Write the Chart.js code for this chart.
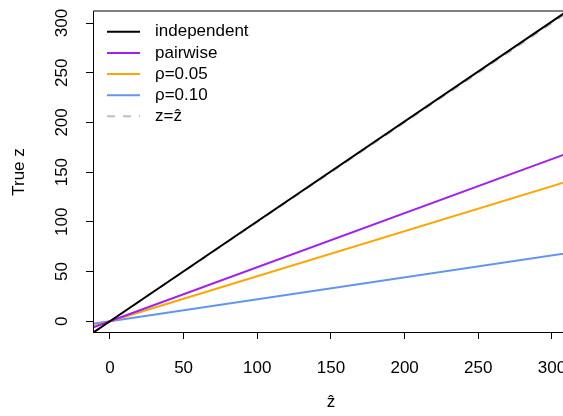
<!DOCTYPE html>
<html>
<head>
<meta charset="utf-8">
<script src="https://cdn.jsdelivr.net/npm/chart.js@4.4.0/dist/chart.umd.min.js"></script>
<style>
  html, body { margin: 0; padding: 0; background: #fff; overflow: hidden; }
  canvas { display: block; }
</style>
</head>
<body>
<canvas id="myChart" width="563" height="416"></canvas>
<script>
// estimated z-hat positions and the matching true z for each method
const zhat        = [-20, 0, 320];
const independent = [-20.1, 0, 321.6];
const pairwise    = [-10.9, 0, 174.1];
const rho05       = [-9.1, 0, 145.0];
const rho10       = [-4.4, 0, 70.7];
const identity    = [-20, 0, 320];

const seriesNames = ["independent", "pairwise", "\u03C1=0.05", "\u03C1=0.10", "z=\u1E91"];
const tickLabels = [0, 50, 100, 150, 200, 250, 300];

const FONT = '"Liberation Sans", Arial, Helvetica, sans-serif';
const FSIZE = 17;

function pts(ys) {
  return zhat.map((x, i) => ({ x: x, y: ys[i] }));
}

// text, box, legend drawn in R style
const rStyle = {
  id: "rStyle",
  afterDraw(chart) {
    const ctx = chart.ctx;
    const area = chart.chartArea;
    const ys = chart.scales.y;
    ctx.save();
    // box (right side falls outside the picture)
    ctx.strokeStyle = "#000";
    ctx.lineWidth = 1;
    ctx.beginPath();
    ctx.moveTo(area.left + 0.5, area.bottom);
    ctx.lineTo(area.left + 0.5, area.top);
    ctx.lineTo(area.right, area.top);
    ctx.stroke();

    ctx.fillStyle = "#000";
    ctx.font = FSIZE + "px " + FONT;
    ctx.textAlign = "center";
    ctx.textBaseline = "middle";
    // y tick labels, rotated like R
    tickLabels.forEach(v => {
      const py = ys.getPixelForValue(v);
      ctx.save();
      ctx.translate(62, py);
      ctx.rotate(-Math.PI / 2);
      ctx.fillText(String(v), 0, 0);
      ctx.restore();
    });
    // y title
    ctx.save();
    ctx.translate(19, 172);
    ctx.rotate(-Math.PI / 2);
    ctx.fillText("True z", 0, 0);
    ctx.restore();
    // x title
    ctx.fillText("\u1E91", 331, 402);

    // legend
    const rows = [31.7, 52.9, 74, 95.2, 116.3];
    chart.data.datasets.forEach((ds, i) => {
      const y = rows[i];
      ctx.save();
      ctx.strokeStyle = ds.borderColor;
      ctx.lineWidth = 2;
      ctx.setLineDash(ds.borderDash || []);
      ctx.beginPath();
      ctx.moveTo(107, y);
      ctx.lineTo(140, y);
      ctx.stroke();
      ctx.restore();
      ctx.textAlign = "left";
      ctx.fillText(seriesNames[i], 155, y);
    });
    ctx.restore();
  }
};

new Chart(document.getElementById("myChart"), {
  type: "line",
  data: {
    datasets: [
      { data: pts(independent), borderColor: "#000000" },
      { data: pts(pairwise), borderColor: "#A020F0" },
      { data: pts(rho05), borderColor: "#FFA500" },
      { data: pts(rho10), borderColor: "#6495ED" },
      { data: pts(identity), borderColor: "#BEBEBE", borderDash: [8, 8] }
    ].map(d => Object.assign({ borderWidth: 2, pointRadius: 0, fill: false, tension: 0, clip: 0 }, d))
  },
  options: {
    responsive: false,
    animation: false,
    devicePixelRatio: 1,
    layout: { padding: { top: 11, right: 0, left: 0, bottom: 0 } },
    plugins: { legend: { display: false }, tooltip: { enabled: false } },
    scales: {
      x: {
        type: "linear",
        min: -11.5,
        max: 307.5,
        afterFit(s) { s.height = 84; s.paddingLeft = 0; s.paddingRight = 0; },
        afterBuildTicks(s) { s.ticks = tickLabels.map(v => ({ value: v })); },
        grid: { drawOnChartArea: false, drawTicks: true, tickLength: 7, color: "#000", tickColor: "#000" },
        border: { display: true, color: "#000", width: 1 },
        ticks: { color: "#000", font: { family: FONT, size: FSIZE }, padding: 19, maxRotation: 0 }
      },
      y: {
        type: "linear",
        min: -10.8,
        max: 312.1,
        afterFit(s) { s.width = 93; s.paddingTop = 0; s.paddingBottom = 0; },
        afterBuildTicks(s) { s.ticks = tickLabels.map(v => ({ value: v })); },
        grid: { drawOnChartArea: false, drawTicks: true, tickLength: 7, color: "#000", tickColor: "#000" },
        border: { display: false },
        ticks: { display: false }
      }
    }
  },
  plugins: [rStyle]
});
</script>
</body>
</html>
